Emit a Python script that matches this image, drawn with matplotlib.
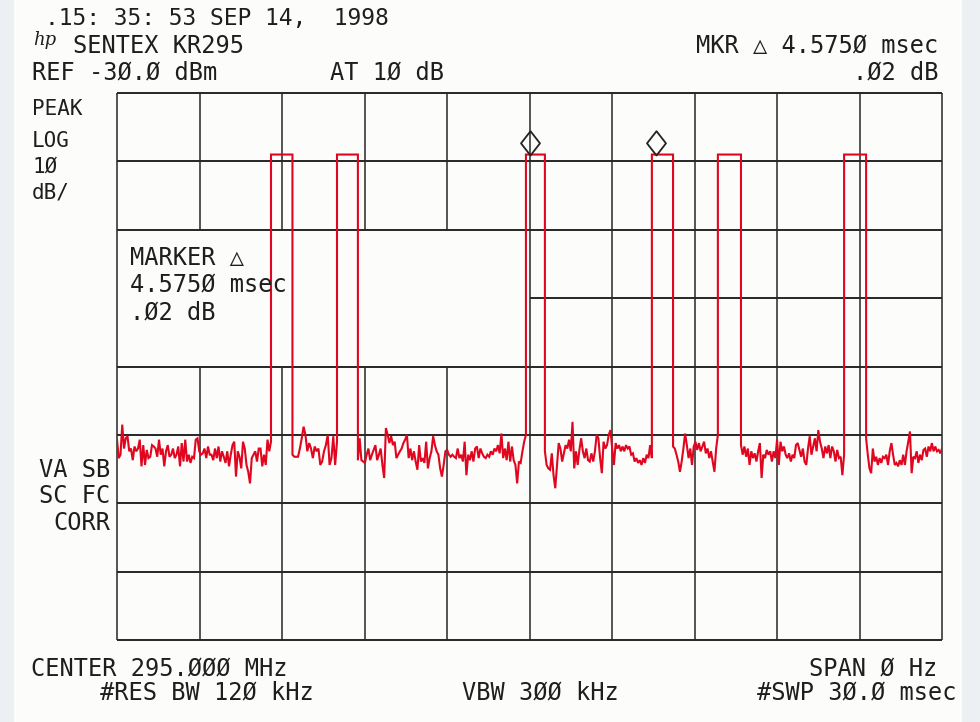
import numpy as np
import matplotlib
matplotlib.use("Agg")
import matplotlib.pyplot as plt
from matplotlib.path import Path
from matplotlib.patches import Rectangle

# === sweep settings (zero span, time domain) ===
SWEEP_MS = 30.0
REF_DBM = -30.0
DB_PER_DIV = 10.0
X_DIVS = 10
Y_DIVS = 8

# === pulses: rise / fall times (ms) and top level (dBm) ===
PULSE_TOP = -39.0
PULSE_RISE = [5.60, 8.00, 14.87, 19.45, 21.85, 26.44]
PULSE_FALL = [6.38, 8.76, 15.56, 20.22, 22.69, 27.24]

# === noise floor between pulses (dBm) ===
NOISE_0 = [-80.7, -83.4, -82.9, -78.5, -82.0, -80.5, -80.2, -82.4, -82.0, -83.7, -81.7, -82.4,
           -82.0, -80.7, -84.6, -81.5, -84.4, -82.2, -83.4, -83.2, -81.5, -81.7, -82.0, -83.2,
           -80.7, -82.9, -82.0, -84.6, -82.4, -81.5, -83.2, -82.9, -82.0, -83.4, -82.9, -81.7,
           -84.6, -81.2, -83.9, -80.7, -83.9, -82.9, -84.1, -83.2, -83.4, -80.7, -80.5, -82.4,
           -82.9, -82.7, -82.0, -83.4, -81.7, -82.9, -82.9, -83.7, -82.0, -83.4, -81.7, -83.9,
           -82.4, -83.2, -84.1, -82.4, -84.6, -82.9, -81.5, -81.0, -86.1, -82.4, -83.2, -84.9,
           -81.0, -82.0, -84.4, -85.4, -87.1, -83.4, -82.9, -82.4, -83.9, -82.0, -82.0, -84.6,
           -82.9, -84.4, -80.7, -82.4, -81.0]
NOISE_1 = [-82.9, -83.2, -83.2, -83.2, -82.0, -80.5, -78.8, -80.0, -82.4, -81.2, -82.0, -83.4,
           -81.7, -82.4, -82.0, -84.4, -83.9, -82.4, -81.5, -80.0, -84.4, -83.4, -80.2, -84.4,
           -81.0]
NOISE_2 = [-83.7, -80.5, -83.7, -83.9, -84.1, -82.9, -82.0, -83.7, -82.9, -82.2, -81.5, -83.7,
           -82.9, -82.0, -84.4, -86.3, -79.0, -80.0, -81.2, -80.2, -81.5, -81.0, -83.4, -82.9,
           -82.4, -82.0, -81.2, -80.7, -80.0, -83.4, -82.0, -83.7, -82.4, -83.9, -85.1, -81.5,
           -83.9, -83.4, -84.1, -81.0, -84.9, -83.4, -82.4, -80.2, -81.5, -82.4, -82.9, -84.9,
           -86.1, -84.4, -82.4, -82.2, -82.9, -83.2, -82.9, -83.2, -83.4, -82.0, -83.4, -82.9,
           -83.9, -81.0, -85.9, -82.9, -83.7, -82.4, -83.9, -82.0, -81.7, -83.4, -82.0, -82.7,
           -83.2, -83.4, -82.9, -83.2, -82.4, -82.9, -82.0, -82.4, -81.5, -82.7, -79.8, -83.4,
           -82.0, -83.7, -81.0, -83.9, -81.7, -83.7, -84.4, -87.1, -83.9, -84.1, -82.4, -81.0,
           -80.0]
NOISE_3 = [-82.4, -84.4, -84.9, -85.1, -82.7, -85.9, -87.8, -84.4, -81.2, -82.0, -83.9, -82.7,
           -81.5, -82.0, -80.7, -82.4, -78.1, -84.9, -82.4, -84.4, -82.2, -80.5, -82.4, -83.4,
           -82.0, -83.7, -83.9, -82.7, -83.9, -82.4, -80.0, -80.5, -83.4, -85.6, -81.0, -82.0,
           -81.5, -80.0, -79.3, -82.0, -84.4, -81.2, -82.0, -81.5, -82.4, -81.7, -82.4, -81.5,
           -82.0, -81.7, -82.9, -82.7, -83.9, -83.4, -84.1, -83.7, -84.4, -83.4, -84.1, -82.9,
           -83.4, -81.5, -83.4]
NOISE_4 = [-81.7, -82.0, -82.9, -83.9, -85.4, -83.9, -82.0, -79.8, -81.5, -83.4, -82.0, -84.4,
           -81.7, -81.0, -82.2, -81.2, -82.4, -81.7, -81.0, -82.7, -82.0, -83.4, -82.4, -83.9,
           -85.4, -82.0, -80.0]
NOISE_5 = [-81.5, -82.9, -81.7, -83.2, -82.0, -84.4, -82.4, -83.4, -82.7, -83.9, -82.4, -81.2,
           -86.3, -82.9, -83.4, -82.2, -82.9, -82.4, -83.9, -82.4, -83.4, -80.7, -84.4, -81.0,
           -82.4, -81.7, -82.9, -83.4, -82.7, -83.9, -82.9, -83.4, -81.5, -81.2, -82.2, -83.2,
           -82.0, -83.9, -84.4, -82.0, -80.2, -82.9, -81.7, -80.5, -82.4, -79.3, -81.0, -82.0,
           -83.4, -81.7, -82.7, -81.5, -83.4, -81.7, -82.4, -83.9, -82.2, -83.4, -83.2, -85.9,
           -82.9]
NOISE_6 = [-80.5, -82.9, -84.9, -85.6, -82.0, -83.9, -83.2, -84.4, -83.4, -84.1, -83.2, -83.4,
           -82.9, -84.4, -82.4, -81.2, -82.9, -84.4, -84.1, -84.6, -83.7, -84.4, -82.9, -84.4,
           -82.4, -81.0, -79.5, -85.6, -83.2, -83.4, -82.4, -84.1, -82.9, -83.7, -82.2, -82.0,
           -83.2, -81.7, -82.4, -81.2, -82.4, -81.7, -82.4, -82.2, -82.7, -82.0]
NOISE = [NOISE_0, NOISE_1, NOISE_2, NOISE_3, NOISE_4, NOISE_5, NOISE_6]

# delta markers (ms)
MARKER_T = [15.02, 19.60]

# === annotation texts ===
HEADER_DATE = ".15: 35: 53 SEP 14,  1998"
HEADER_TITLE = "SENTEX KR295"
HEADER_REF = "REF -3\u00d8.\u00d8 dBm"
HEADER_ATT = "AT 1\u00d8 dB"
MKR_LINE1 = "MKR \u25b3 4.575\u00d8 msec"
MKR_LINE2 = ".\u00d82 dB"
SCALE_LABELS = ["PEAK", "LOG", "1\u00d8", "dB/"]
MARKER_BOX = ["MARKER \u25b3", "4.575\u00d8 msec", ".\u00d82 dB"]
STATUS_LABELS = ["VA SB", "SC FC", "CORR"]
FOOT_CENTER = "CENTER 295.\u00d8\u00d8\u00d8 MHz"
FOOT_SPAN = "SPAN \u00d8 Hz"
FOOT_RBW = "#RES BW 12\u00d8 kHz"
FOOT_VBW = "VBW 3\u00d8\u00d8 kHz"
FOOT_SWP = "#SWP 3\u00d8.\u00d8 msec"

# === build trace ===
t_trace, lvl_trace = [], []
for i, seg in enumerate(NOISE):
    start = 0.0 if i == 0 else PULSE_FALL[i - 1]
    end = PULSE_RISE[i] if i < len(PULSE_RISE) else SWEEP_MS
    t_trace.extend(np.linspace(start, end, len(seg)))
    lvl_trace.extend(seg)
    if i < len(PULSE_RISE):
        t_trace += [PULSE_RISE[i], PULSE_FALL[i]]
        lvl_trace += [PULSE_TOP, PULSE_TOP]

W, H = 980, 722
fig = plt.figure(figsize=(W / 100, H / 100), dpi=100)
fig.patch.set_facecolor("#fcfcfa")
# scanner edges
fig.patches.append(Rectangle((0, 0), 14 / W, 1, transform=fig.transFigure,
                             facecolor="#edf0f3", edgecolor="none"))
fig.patches.append(Rectangle((962 / W, 0), 18 / W, 1, transform=fig.transFigure,
                             facecolor="#edf0f3", edgecolor="none"))

ax = fig.add_axes([117 / W, 1 - 640 / H, 825 / W, 547 / H])
ax.set_facecolor("none")
y_bot = REF_DBM - Y_DIVS * DB_PER_DIV
ax.set_xlim(0, SWEEP_MS)
ax.set_ylim(y_bot, REF_DBM)
ax.axis("off")

# === graticule (with the blank marker readout box) ===
grid_kw = dict(color="#262626", lw=1.1, clip_on=False, zorder=1)
x_step = SWEEP_MS / X_DIVS
box_x1 = 5 * x_step
box_y0, box_y1 = REF_DBM - 4 * DB_PER_DIV, REF_DBM - 2 * DB_PER_DIV
for k in range(X_DIVS + 1):
    xv = k * x_step
    if 0 < xv < box_x1:
        ax.vlines(xv, y_bot, box_y0, **grid_kw)
        ax.vlines(xv, box_y1, REF_DBM, **grid_kw)
    else:
        ax.vlines(xv, y_bot, REF_DBM, **grid_kw)
for k in range(Y_DIVS + 1):
    yv = REF_DBM - k * DB_PER_DIV
    if box_y0 < yv < box_y1:
        ax.hlines(yv, box_x1, SWEEP_MS, lw=1.4, color="#262626", clip_on=False, zorder=1)
    else:
        ax.hlines(yv, 0, SWEEP_MS, lw=1.4, color="#262626", clip_on=False, zorder=1)

# === trace ===
ax.plot(t_trace, lvl_trace, color="#e0061f", lw=1.5, zorder=3, solid_joinstyle="miter")

# === markers: open diamonds sitting on the pulse tops ===
diamond = Path([(0, 0), (0.78, 1), (0, 2), (-0.78, 1), (0, 0)],
               [Path.MOVETO, Path.LINETO, Path.LINETO, Path.LINETO, Path.CLOSEPOLY])
ax.plot(MARKER_T, [PULSE_TOP] * len(MARKER_T), ls="none", marker=diamond, markersize=35,
        markerfacecolor="none", markeredgecolor="#222222", markeredgewidth=1.3, zorder=4,
        clip_on=False)

# === texts ===
txt_kw = dict(family="DejaVu Sans Mono", fontsize=17, color="#1e1e1e", va="baseline")


def ftext(x, y, s, ha="left", **kw):
    opts = dict(txt_kw)
    opts.update(kw)
    fig.text(x / W, 1 - y / H, s, ha=ha, **opts)


ftext(45, 25, HEADER_DATE, fontsize=16.5)
ftext(33, 45, "hp", family="DejaVu Serif", style="italic", fontsize=13)
ftext(73, 53, HEADER_TITLE)
ftext(32, 80, HEADER_REF)
ftext(330, 80, HEADER_ATT)
ftext(938, 53, MKR_LINE1, ha="right")
ftext(938, 80, MKR_LINE2, ha="right")

for lab, yb in zip(SCALE_LABELS, [115, 147, 173, 199]):
    ftext(32, yb, lab, fontsize=15)
for lab, yb in zip(MARKER_BOX, [265, 292, 320]):
    ftext(130, yb, lab)
for lab, yb in zip(STATUS_LABELS, [477, 503, 530]):
    ftext(110, yb, lab, ha="right")

ftext(31, 675, FOOT_CENTER)
ftext(937, 675, FOOT_SPAN, ha="right")
ftext(100, 700, FOOT_RBW)
ftext(462, 700, FOOT_VBW)
ftext(956, 700, FOOT_SWP, ha="right")

fig.savefig("out.png", dpi=100, facecolor=fig.get_facecolor())
